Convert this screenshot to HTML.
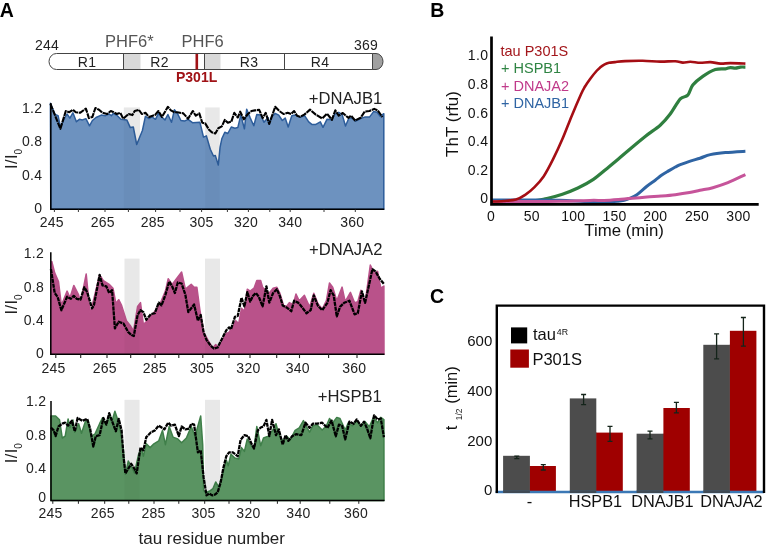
<!DOCTYPE html>
<html><head><meta charset="utf-8"><title>Figure</title>
<style>
html,body{margin:0;padding:0;background:#fff;}
body{width:774px;height:549px;overflow:hidden;}
svg{display:block;}
text{font-family:"Liberation Sans",sans-serif;fill:#222;}
.tk{font-size:14px;letter-spacing:0.25px;}
.lb{font-size:16.6px;}
.yl{font-size:16.5px;}
.pn{font-size:19.5px;font-weight:bold;fill:#000;}
</style></head><body>
<svg width="774" height="549" viewBox="0 0 774 549">
<rect width="774" height="549" fill="#fff"/>

<text x="-0.2" y="16.8" class="pn">A</text>
<text x="430.3" y="16.8" class="pn">B</text>
<text x="430.1" y="303.3" class="pn">C</text>

<g>
<path d="M56.5,53.5 H372.5 V69.5 H56.5 A7.5,8 0 0 1 56.5,53.5 Z" fill="#fff" stroke="none"/>
<rect x="123.5" y="54" width="17" height="15" fill="#d9d9d9"/>
<rect x="205" y="54" width="15.5" height="15" fill="#d9d9d9"/>
<path d="M372.5,53.5 H376 A7,8 0 0 1 376,69.5 H372.5 Z" fill="#a0a0a0" stroke="#444" stroke-width="1"/>
<path d="M372.5,53.5 H56.5 A7.5,8 0 0 0 56.5,69.5 H372.5" fill="none" stroke="#444" stroke-width="1"/>
<path d="M123.5,53.5 V69.5 M204.5,53.5 V69.5 M284.5,53.5 V69.5 M372.5,53.5 V69.5" stroke="#444" stroke-width="1" fill="none"/>
<rect x="195.5" y="54" width="2.6" height="15.5" fill="#a01216"/>
<text x="87" y="66.5" text-anchor="middle" class="tk">R1</text>
<text x="159.5" y="66.5" text-anchor="middle" class="tk">R2</text>
<text x="249" y="66.5" text-anchor="middle" class="tk">R3</text>
<text x="320" y="66.5" text-anchor="middle" class="tk">R4</text>
<text x="35" y="50.3" class="tk">244</text>
<text x="354" y="50.3" class="tk">369</text>
<text x="105" y="47" font-size="16.5" style="fill:#555">PHF6*</text>
<text x="181.5" y="47" font-size="16.5" style="fill:#555">PHF6</text>
<text x="176" y="82.2" font-size="14" font-weight="bold" style="fill:#a01216">P301L</text>
</g>

<rect x="123.8" y="107.4" width="16.2" height="101.8" fill="#f0f0f0"/>
<rect x="205.2" y="107.4" width="14.5" height="101.8" fill="#f0f0f0"/>
<polygon points="50.8,209.2 50.4,103.3 55.1,114.5 58.1,115.7 60.4,127.0 63.4,120.5 67.0,114.0 69.9,118.1 72.9,112.8 76.4,121.7 79.4,119.3 82.4,119.9 85.9,118.7 89.5,125.8 92.4,120.5 96.0,117.5 101.3,115.1 105.5,115.7 109.0,114.0 111.4,115.7 113.2,113.4 117.3,115.7 120.9,119.3 126.8,119.9 130.3,127.6 133.3,127.0 136.7,144.5 142.4,130.5 145.4,116.3 149.0,118.7 151.9,116.9 155.5,119.3 158.4,113.4 161.4,116.9 165.0,119.9 167.9,114.5 171.5,122.3 174.4,109.8 177.4,113.4 180.9,120.5 184.5,121.1 188.1,119.3 192.8,122.8 199.9,122.3 203.5,137.1 206.4,135.9 210.3,149.2 213.5,156.0 215.3,155.4 218.3,165.0 220.1,147.1 221.8,138.8 224.8,132.3 227.8,133.5 231.3,127.0 234.9,128.2 237.8,127.6 240.8,115.1 244.4,128.8 246.7,109.2 250.3,118.1 253.8,125.8 256.8,114.5 260.9,115.1 263.9,122.3 268.1,117.5 269.2,124.0 271.6,116.9 275.2,113.4 278.7,115.1 282.3,120.5 285.2,118.1 288.2,127.0 291.8,115.7 295.3,115.1 300.5,117.1 304.6,115.7 308.7,121.9 312.1,124.6 315.5,124.6 320.3,121.9 323.0,127.3 327.1,119.2 331.9,119.8 334.6,114.4 338.7,112.3 342.1,114.4 345.5,126.0 349.0,117.8 352.4,118.5 355.8,121.2 360.6,118.5 364.7,117.1 369.5,117.1 373.6,111.6 377.0,112.3 380.4,116.4 383.8,113.7 383.8,209.2" fill="#6d92bf" stroke="#2d5d9b" stroke-width="1.5" stroke-linejoin="round"/>
<rect x="123.8" y="107.4" width="16.2" height="101.8" fill="#000" fill-opacity="0.03"/>
<rect x="205.2" y="107.4" width="14.5" height="101.8" fill="#000" fill-opacity="0.03"/>
<polyline points="50.4,103.9 60.4,128.8 65.8,111.0 69.3,112.2 72.9,109.8 75.8,112.2 80.0,112.8 85.9,108.6 88.9,118.1 92.4,116.9 95.4,108.0 99.0,109.8 102.5,112.8 107.2,114.0 110.8,111.0 113.8,112.2 116.7,114.0 120.3,112.8 123.2,118.7 128.6,114.0 132.4,115.1 134.7,111.0 138.9,109.8 141.8,114.0 145.4,112.8 149.0,116.9 154.9,115.1 158.4,111.0 162.0,116.9 167.9,106.8 170.9,110.4 174.4,112.2 177.4,112.2 183.3,113.4 188.1,118.7 192.8,111.0 195.8,115.7 199.3,113.4 202.3,122.8 205.2,123.4 208.8,129.4 211.8,132.3 215.3,133.5 218.3,128.2 221.8,126.4 224.8,119.9 227.8,122.8 231.3,121.7 234.3,112.8 237.8,117.5 240.2,111.6 243.8,119.3 247.9,114.0 251.5,111.0 255.0,110.4 259.2,109.8 262.7,118.1 265.7,112.8 269.2,124.0 275.2,106.8 279.3,111.0 283.5,114.0 287.6,112.8 291.2,114.0 294.1,111.0 297.1,115.7 300.0,116.9 304.6,114.4 310.0,109.6 315.5,114.4 322.3,118.5 327.1,113.7 331.9,119.8 335.3,110.3 338.7,115.7 342.8,113.0 348.3,117.8 351.0,115.7 355.1,120.5 360.6,117.8 364.7,111.6 369.5,111.0 374.2,108.9 377.7,110.3 382.4,117.1" fill="none" stroke="#000" stroke-width="2.1" stroke-linejoin="round" stroke-dasharray="6 0.7"/>
<path d="M50.8,103 V209.2 H384.3" fill="none" stroke="#000" stroke-width="1.5"/>
<line x1="54.4" y1="209.2" x2="54.4" y2="212.0" stroke="#222" stroke-width="0.9"/>
<line x1="78.4" y1="209.2" x2="78.4" y2="212.0" stroke="#222" stroke-width="0.9"/>
<line x1="105" y1="209.2" x2="105" y2="212.0" stroke="#222" stroke-width="0.9"/>
<line x1="128.4" y1="209.2" x2="128.4" y2="212.0" stroke="#222" stroke-width="0.9"/>
<line x1="155.6" y1="209.2" x2="155.6" y2="212.0" stroke="#222" stroke-width="0.9"/>
<line x1="180" y1="209.2" x2="180" y2="212.0" stroke="#222" stroke-width="0.9"/>
<line x1="201.6" y1="209.2" x2="201.6" y2="212.0" stroke="#222" stroke-width="0.9"/>
<line x1="227.4" y1="209.2" x2="227.4" y2="212.0" stroke="#222" stroke-width="0.9"/>
<line x1="248.4" y1="209.2" x2="248.4" y2="212.0" stroke="#222" stroke-width="0.9"/>
<line x1="269.8" y1="209.2" x2="269.8" y2="212.0" stroke="#222" stroke-width="0.9"/>
<line x1="290.2" y1="209.2" x2="290.2" y2="212.0" stroke="#222" stroke-width="0.9"/>
<line x1="324" y1="209.2" x2="324" y2="212.0" stroke="#222" stroke-width="0.9"/>
<line x1="355.3" y1="209.2" x2="355.3" y2="212.0" stroke="#222" stroke-width="0.9"/>
<text x="51.7" y="227.3" text-anchor="middle" class="tk">245</text>
<text x="102.8" y="227.3" text-anchor="middle" class="tk">265</text>
<text x="152.8" y="227.3" text-anchor="middle" class="tk">285</text>
<text x="201.6" y="227.3" text-anchor="middle" class="tk">305</text>
<text x="246" y="227.3" text-anchor="middle" class="tk">320</text>
<text x="290.2" y="227.3" text-anchor="middle" class="tk">340</text>
<text x="352.3" y="227.3" text-anchor="middle" class="tk">360</text>
<text x="42.2" y="112.7" text-anchor="end" class="tk">1.2</text>
<text x="42.2" y="146.0" text-anchor="end" class="tk">0.8</text>
<text x="42.2" y="179.7" text-anchor="end" class="tk">0.4</text>
<text x="42.2" y="212.5" text-anchor="end" class="tk">0</text>
<text x="382.2" y="104" text-anchor="end" class="lb">+DNAJB1</text>
<text transform="translate(17.1,169.0) rotate(-90)" class="yl" letter-spacing="0.4">I/I<tspan dy="5.3" dx="-0.4" font-size="10">0</tspan></text>
<rect x="124.5" y="258.6" width="15.1" height="95.7" fill="#f0f0f0"/>
<rect x="205" y="258.6" width="15.0" height="95.7" fill="#f0f0f0"/>
<polygon points="50.8,354.3 51.8,261.5 54.7,272.9 58.5,281.5 61.4,305.4 67.1,291.1 70.0,297.8 73.8,285.4 78.6,294.9 80.5,302.6 86.2,273.9 90.1,314.1 99.6,274.9 103.4,280.6 109.2,284.4 113.0,288.2 115.9,303.5 118.7,299.7 121.6,305.4 126.4,320.7 130.2,325.5 133.5,331.0 137.6,306.4 140.5,302.6 143.4,324.6 147.2,320.7 154.9,311.2 160.6,302.6 165.4,291.1 168.2,278.7 172.1,284.4 181.6,272.0 185.4,289.2 191.2,284.4 194.1,287.3 196.9,287.3 199.8,309.3 203.6,332.2 208.4,340.8 212.9,348.0 215.7,344.6 218.6,347.5 221.5,341.8 225.3,334.1 229.1,332.2 232.9,326.5 235.8,320.7 238.7,323.6 241.5,308.3 244.4,311.2 247.3,289.2 250.2,291.1 254.0,288.2 256.8,280.6 260.7,280.6 262.6,287.3 266.4,291.1 269.3,293.0 273.1,288.2 276.9,287.3 279.8,293.0 283.6,305.4 286.5,306.4 289.3,302.6 293.2,304.5 296.0,294.0 299.2,300.7 304.4,295.4 309.6,306.9 313.8,293.3 318.0,303.8 322.2,309.0 326.4,300.7 329.5,282.9 332.7,287.1 336.8,300.7 342.1,287.1 345.2,301.7 350.4,292.3 354.6,302.8 357.8,301.7 360.9,290.2 365.1,302.8 370.3,265.1 374.5,273.5 377.6,271.4 380.8,288.1 383.9,286.0 384.0,354.3" fill="#b9528a" stroke="#b9528a" stroke-width="1.5" stroke-linejoin="round"/>
<rect x="124.5" y="258.6" width="15.1" height="95.7" fill="#000" fill-opacity="0.03"/>
<rect x="205" y="258.6" width="15.0" height="95.7" fill="#000" fill-opacity="0.03"/>
<polyline points="50.9,269.1 54.7,293.0 57.6,296.8 61.4,310.2 67.1,296.8 70.9,298.8 73.8,295.9 76.7,298.8 80.5,299.7 84.3,287.3 87.2,292.1 92.0,308.3 93.9,305.4 99.6,274.9 102.5,285.4 106.3,286.3 109.2,293.0 112.1,290.2 114.9,328.4 118.7,321.7 123.5,323.6 128.3,332.2 131.5,335.0 133.8,336.0 137.6,315.0 140.5,310.2 143.4,312.1 146.3,319.8 151.0,314.1 154.9,313.1 158.7,302.6 161.5,305.4 165.4,294.9 169.2,281.5 172.1,286.3 174.9,293.0 177.8,282.5 181.6,283.5 185.4,294.9 188.3,312.1 194.1,304.5 197.9,320.7 200.7,315.0 203.6,332.2 206.5,339.9 210.5,345.5 213.8,348.5 217.6,347.5 222.4,338.0 226.3,330.3 229.1,327.4 231.0,329.3 234.9,316.9 237.7,316.0 241.5,297.8 244.4,306.4 247.3,292.1 250.2,301.6 253.0,295.9 255.9,293.0 258.8,296.8 262.6,306.4 266.4,286.3 269.3,302.6 273.1,293.0 276.9,289.2 279.8,295.9 282.7,305.4 286.5,307.4 291.3,311.2 294.1,300.7 298.0,302.6 300.2,304.9 306.5,313.2 310.7,310.1 313.8,295.4 318.0,305.9 322.2,310.1 327.4,302.8 330.6,290.2 333.7,295.4 336.8,316.4 340.0,306.9 344.2,302.8 349.4,300.7 354.6,314.3 357.8,313.2 361.9,291.3 365.1,302.8 372.4,269.3 375.5,271.4 379.7,278.7 383.9,283.9" fill="none" stroke="#000" stroke-width="2.3" stroke-linejoin="round" stroke-dasharray="4.2 0.7"/>
<path d="M50.8,252.3 V354.3 H384.5" fill="none" stroke="#000" stroke-width="1.5"/>
<line x1="55.8" y1="354.3" x2="55.8" y2="358.1" stroke="#222" stroke-width="1.1"/>
<line x1="80.7" y1="354.3" x2="80.7" y2="358.1" stroke="#222" stroke-width="1.1"/>
<line x1="107" y1="354.3" x2="107" y2="358.1" stroke="#222" stroke-width="1.1"/>
<line x1="130.7" y1="354.3" x2="130.7" y2="358.1" stroke="#222" stroke-width="1.1"/>
<line x1="155.1" y1="354.3" x2="155.1" y2="358.1" stroke="#222" stroke-width="1.1"/>
<line x1="178.8" y1="354.3" x2="178.8" y2="358.1" stroke="#222" stroke-width="1.1"/>
<line x1="202.8" y1="354.3" x2="202.8" y2="358.1" stroke="#222" stroke-width="1.1"/>
<line x1="229" y1="354.3" x2="229" y2="358.1" stroke="#222" stroke-width="1.1"/>
<line x1="250" y1="354.3" x2="250" y2="358.1" stroke="#222" stroke-width="1.1"/>
<line x1="276.7" y1="354.3" x2="276.7" y2="358.1" stroke="#222" stroke-width="1.1"/>
<line x1="299.5" y1="354.3" x2="299.5" y2="358.1" stroke="#222" stroke-width="1.1"/>
<line x1="328.6" y1="354.3" x2="328.6" y2="358.1" stroke="#222" stroke-width="1.1"/>
<line x1="357" y1="354.3" x2="357" y2="358.1" stroke="#222" stroke-width="1.1"/>
<text x="53.5" y="372.8" text-anchor="middle" class="tk">245</text>
<text x="104.7" y="372.8" text-anchor="middle" class="tk">265</text>
<text x="154.7" y="372.8" text-anchor="middle" class="tk">285</text>
<text x="202" y="372.8" text-anchor="middle" class="tk">305</text>
<text x="248.4" y="372.8" text-anchor="middle" class="tk">320</text>
<text x="297.7" y="372.8" text-anchor="middle" class="tk">340</text>
<text x="354.2" y="372.8" text-anchor="middle" class="tk">360</text>
<text x="44" y="258.2" text-anchor="end" class="tk">1.2</text>
<text x="44" y="291.6" text-anchor="end" class="tk">0.8</text>
<text x="44" y="325.2" text-anchor="end" class="tk">0.4</text>
<text x="44" y="357.5" text-anchor="end" class="tk">0</text>
<text x="382.4" y="254.6" text-anchor="end" class="lb">+DNAJA2</text>
<text transform="translate(17.1,314.5) rotate(-90)" class="yl" letter-spacing="0.4">I/I<tspan dy="5.3" dx="-0.4" font-size="10">0</tspan></text>
<rect x="124.5" y="399.8" width="15.1" height="100.8" fill="#f0f0f0"/>
<rect x="205" y="399.8" width="15.0" height="100.8" fill="#f0f0f0"/>
<polygon points="51.0,500.6 50.9,416.0 55.6,416.0 59.5,419.9 62.3,438.0 65.2,436.1 68.1,418.9 70.0,427.5 72.9,419.9 74.8,432.3 78.6,423.7 81.5,433.2 85.3,421.8 88.2,420.8 91.0,436.1 94.8,434.2 99.6,423.7 102.5,417.9 106.3,424.6 109.2,414.1 112.1,420.8 114.9,411.3 117.8,419.9 120.7,432.3 123.5,451.4 125.4,474.3 128.3,461.0 132.1,467.7 134.5,473.0 138.6,454.3 141.5,448.5 143.4,456.2 146.3,443.8 150.1,447.6 153.9,443.8 158.7,440.9 162.5,430.4 165.4,444.7 169.2,426.5 173.0,437.1 177.8,439.0 181.6,442.8 186.4,438.0 191.2,426.5 195.0,436.1 200.7,416.0 202.7,444.7 203.6,490.6 206.5,492.5 210.3,490.6 212.9,488.7 215.7,482.0 218.6,486.8 221.5,479.1 224.3,467.7 226.3,460.0 228.2,465.7 231.0,454.3 234.9,458.1 238.7,459.1 241.5,447.6 244.4,451.4 247.3,439.0 251.1,445.7 254.0,448.5 256.8,426.5 260.7,445.7 263.5,438.0 268.3,436.1 272.1,431.3 276.0,423.7 278.8,434.2 282.7,440.9 286.5,436.1 290.3,439.9 295.1,430.4 299.2,427.9 303.4,420.6 306.5,426.8 309.6,432.1 312.8,425.8 317.0,424.7 322.2,430.0 326.4,425.8 329.5,418.5 332.7,422.7 336.8,417.4 340.0,418.5 345.2,430.0 348.3,422.7 352.5,425.8 356.7,420.6 360.9,425.8 365.1,421.6 369.3,426.8 373.5,417.4 377.6,422.7 380.8,417.4 383.9,419.5 384.0,500.6" fill="#5a9462" stroke="#3f7f49" stroke-width="1.5" stroke-linejoin="round"/>
<rect x="124.5" y="399.8" width="15.1" height="100.8" fill="#000" fill-opacity="0.03"/>
<rect x="205" y="399.8" width="15.0" height="100.8" fill="#000" fill-opacity="0.03"/>
<polyline points="50.9,427.5 53.7,430.4 55.6,436.1 58.5,426.5 62.3,423.7 65.2,422.7 68.1,425.6 71.9,420.8 74.8,431.3 77.6,418.0 82.4,420.8 87.2,418.9 90.1,428.5 93.3,446.6 95.8,436.1 99.6,435.2 103.4,418.0 106.3,424.6 109.2,413.2 113.0,423.7 115.9,431.3 118.7,418.9 121.6,430.4 123.5,456.2 125.4,473.4 128.3,468.6 131.2,463.8 133.8,467.7 136.7,473.4 140.5,447.6 143.4,450.4 146.3,437.1 151.0,432.3 154.9,430.4 158.7,425.6 164.4,429.4 168.2,422.7 171.1,425.6 174.9,424.6 178.8,436.1 181.6,426.5 185.4,429.4 189.3,428.5 191.2,423.7 194.1,424.6 197.9,452.4 200.7,450.4 203.6,477.2 206.5,495.4 209.3,493.5 212.2,495.4 215.0,494.5 217.6,492.5 220.5,483.0 223.4,467.7 226.3,456.2 229.1,452.4 232.9,452.4 237.7,456.2 240.6,439.9 244.4,435.2 248.2,436.1 251.1,442.8 254.0,448.5 257.8,430.4 260.7,427.5 263.5,426.5 266.4,419.9 269.3,436.1 272.1,419.9 276.0,435.2 278.8,429.4 282.7,444.7 285.5,435.2 288.4,440.9 292.2,436.1 296.0,434.2 301.3,435.2 305.5,422.7 309.6,427.9 312.8,423.7 317.0,423.7 322.2,422.7 327.4,427.9 331.6,420.6 335.8,436.3 338.9,424.7 342.1,425.8 345.2,439.4 349.4,421.6 353.6,423.7 356.7,419.5 360.9,425.8 364.0,421.6 367.2,428.9 370.3,438.3 374.1,415.3 377.6,419.5 380.8,418.5 383.9,437.3" fill="none" stroke="#000" stroke-width="2.3" stroke-linejoin="round" stroke-dasharray="4.2 0.7"/>
<path d="M51,401 V500.6 H384.5" fill="none" stroke="#000" stroke-width="1.5"/>
<line x1="52.8" y1="500.6" x2="52.8" y2="503.8" stroke="#222" stroke-width="1.0"/>
<line x1="78.4" y1="500.6" x2="78.4" y2="503.8" stroke="#222" stroke-width="1.0"/>
<line x1="104.7" y1="500.6" x2="104.7" y2="503.8" stroke="#222" stroke-width="1.0"/>
<line x1="128.8" y1="500.6" x2="128.8" y2="503.8" stroke="#222" stroke-width="1.0"/>
<line x1="154" y1="500.6" x2="154" y2="503.8" stroke="#222" stroke-width="1.0"/>
<line x1="178.8" y1="500.6" x2="178.8" y2="503.8" stroke="#222" stroke-width="1.0"/>
<line x1="204.7" y1="500.6" x2="204.7" y2="503.8" stroke="#222" stroke-width="1.0"/>
<line x1="229" y1="500.6" x2="229" y2="503.8" stroke="#222" stroke-width="1.0"/>
<line x1="250.7" y1="500.6" x2="250.7" y2="503.8" stroke="#222" stroke-width="1.0"/>
<line x1="277.4" y1="500.6" x2="277.4" y2="503.8" stroke="#222" stroke-width="1.0"/>
<line x1="300.2" y1="500.6" x2="300.2" y2="503.8" stroke="#222" stroke-width="1.0"/>
<line x1="329.8" y1="500.6" x2="329.8" y2="503.8" stroke="#222" stroke-width="1.0"/>
<line x1="358.8" y1="500.6" x2="358.8" y2="503.8" stroke="#222" stroke-width="1.0"/>
<text x="50.6" y="518.4" text-anchor="middle" class="tk">245</text>
<text x="102.8" y="518.4" text-anchor="middle" class="tk">265</text>
<text x="153.5" y="518.4" text-anchor="middle" class="tk">285</text>
<text x="203.5" y="518.4" text-anchor="middle" class="tk">305</text>
<text x="248.4" y="518.4" text-anchor="middle" class="tk">320</text>
<text x="298.4" y="518.4" text-anchor="middle" class="tk">340</text>
<text x="356" y="518.4" text-anchor="middle" class="tk">360</text>
<text x="46.2" y="406.4" text-anchor="end" class="tk">1.2</text>
<text x="46.2" y="439.7" text-anchor="end" class="tk">0.8</text>
<text x="46.2" y="473.4" text-anchor="end" class="tk">0.4</text>
<text x="46.2" y="501.7" text-anchor="end" class="tk">0</text>
<text x="381.8" y="401.7" text-anchor="end" class="lb">+HSPB1</text>
<text transform="translate(17.1,463.2) rotate(-90)" class="yl" letter-spacing="0.4">I/I<tspan dy="5.3" dx="-0.4" font-size="10">0</tspan></text>
<text x="138.5" y="543.5" font-size="17">tau residue number</text>
<g fill="none" stroke-linejoin="round" stroke-linecap="butt">
<path d="M491.2,201.0 C497.9,201.0 522.1,201.4 531.4,201.0 C540.7,200.6 541.7,199.6 546.9,198.5 C552.1,197.4 557.2,195.9 562.4,194.2 C567.6,192.4 572.7,190.5 577.9,188.0 C583.1,185.5 588.2,182.8 593.4,179.3 C598.5,175.8 604.7,170.2 608.8,166.9 C612.9,163.6 614.5,162.2 618.1,159.2 C621.7,156.2 625.6,152.8 630.1,149.0 C634.6,145.2 640.2,140.5 645.2,136.5 C650.2,132.5 656.0,128.9 660.2,125.2 C664.4,121.5 666.9,118.4 670.2,114.0 C673.6,109.6 677.4,102.0 680.3,98.9 C683.2,95.8 685.7,97.5 687.8,95.2 C689.9,92.9 690.3,88.2 692.8,85.1 C695.3,82.0 699.0,79.0 702.8,76.4 C706.5,73.8 711.5,70.9 715.3,69.6 C719.1,68.3 722.9,69.1 725.4,68.8 C727.9,68.5 728.7,67.7 730.4,67.6 C732.1,67.5 733.7,68.2 735.4,68.1 C737.1,68.0 738.7,67.3 740.4,67.1 C742.1,66.9 744.6,67.1 745.4,67.1" stroke="#2f7f3f" stroke-width="3.2"/>
<path d="M491.2,200.0 C497.7,200.0 518.5,199.9 530.0,200.0 C541.5,200.1 550.0,200.0 560.0,200.3 C570.0,200.6 581.7,201.4 590.0,201.6 C598.3,201.8 605.3,201.8 610.0,201.7 C614.7,201.6 615.6,201.5 618.0,201.3 C620.4,201.1 622.1,200.9 624.1,200.4 C626.1,199.9 627.7,199.2 629.8,198.3 C631.9,197.4 634.0,196.7 636.9,194.7 C639.8,192.7 643.8,188.6 646.9,186.2 C650.0,183.8 652.8,182.0 655.2,180.2 C657.6,178.4 659.0,177.0 661.1,175.5 C663.2,174.0 665.3,172.8 667.7,171.4 C670.1,170.0 673.2,168.1 675.3,167.0 C677.4,165.9 677.9,165.5 680.3,164.6 C682.7,163.7 686.2,162.4 689.5,161.3 C692.8,160.2 696.5,159.3 700.0,158.2 C703.5,157.1 706.1,155.5 710.3,154.6 C714.5,153.7 719.5,153.1 725.4,152.6 C731.2,152.1 742.1,151.5 745.4,151.3" stroke="#2f64a3" stroke-width="3"/>
<path d="M491.2,201.5 C497.7,201.5 518.5,201.5 530.0,201.5 C541.5,201.5 550.0,201.5 560.0,201.3 C570.0,201.1 582.7,200.6 590.0,200.4 C597.3,200.2 599.3,200.6 604.0,200.4 C608.7,200.2 613.6,199.8 618.4,199.4 C623.2,199.1 627.9,198.7 632.6,198.3 C637.4,197.9 642.1,197.5 646.9,197.1 C651.6,196.7 656.4,196.5 661.1,196.1 C665.8,195.7 670.6,195.3 675.3,194.7 C680.0,194.1 685.4,193.3 689.5,192.6 C693.6,191.9 696.1,191.1 700.0,190.3 C703.9,189.5 708.1,189.0 712.8,187.7 C717.4,186.4 722.5,184.9 727.9,182.7 C733.3,180.5 742.5,175.9 745.4,174.6" stroke="#c6549a" stroke-width="3"/>
<path d="M491.2,201.6 C493.3,201.5 499.5,201.4 503.6,201.0 C507.7,200.6 512.4,200.4 516.0,199.4 C519.6,198.4 522.1,196.9 525.2,194.8 C528.3,192.8 531.4,190.2 534.5,187.1 C537.6,184.0 540.7,180.8 543.8,176.2 C546.9,171.5 550.0,165.4 553.1,159.2 C556.2,153.0 559.3,146.3 562.4,139.1 C565.5,131.9 568.6,123.4 571.7,115.9 C574.8,108.4 578.8,99.1 581.0,94.2 C583.2,89.3 583.5,89.1 585.0,86.5 C586.5,83.9 588.4,81.3 590.3,78.7 C592.2,76.1 594.9,72.8 596.5,71.0 C598.1,69.2 598.7,68.7 600.0,67.6 C601.3,66.5 602.7,65.4 604.2,64.6 C605.7,63.8 607.2,63.2 609.0,62.8 C610.8,62.4 612.3,62.4 615.0,62.1 C617.7,61.8 620.5,61.3 625.1,61.1 C629.7,60.9 636.9,60.7 642.7,60.8 C648.6,60.9 654.8,61.5 660.2,61.6 C665.6,61.7 671.4,61.1 675.2,61.3 C679.0,61.5 680.3,62.5 682.8,62.6 C685.3,62.7 687.4,61.8 690.3,61.8 C693.2,61.8 697.0,62.8 700.3,62.8 C703.6,62.8 706.9,62.0 710.3,62.1 C713.6,62.2 717.0,63.4 720.4,63.6 C723.8,63.8 726.2,63.1 730.4,63.1 C734.6,63.1 742.9,63.5 745.4,63.6" stroke="#a50e14" stroke-width="2.6"/>
</g>
<path d="M491.5,36.4 V204.4 H758.7" fill="none" stroke="#000" stroke-width="2.7"/>
<text x="488.6" y="59.8" text-anchor="end" class="tk" style="fill:#111;letter-spacing:0.5px">1.0</text>
<text x="488.6" y="89.1" text-anchor="end" class="tk" style="fill:#111;letter-spacing:0.5px">0.8</text>
<text x="488.6" y="117.6" text-anchor="end" class="tk" style="fill:#111;letter-spacing:0.5px">0.6</text>
<text x="488.6" y="146.3" text-anchor="end" class="tk" style="fill:#111;letter-spacing:0.5px">0.4</text>
<text x="488.6" y="174.7" text-anchor="end" class="tk" style="fill:#111;letter-spacing:0.5px">0.2</text>
<text x="488.6" y="202.6" text-anchor="end" class="tk" style="fill:#111;letter-spacing:0.5px">0</text>
<text x="490.9" y="221" text-anchor="middle" class="tk" style="fill:#111">0</text>
<text x="531.8" y="221" text-anchor="middle" class="tk" style="fill:#111">50</text>
<text x="573.3" y="221" text-anchor="middle" class="tk" style="fill:#111">100</text>
<text x="614.6" y="221" text-anchor="middle" class="tk" style="fill:#111">150</text>
<text x="655.2" y="221" text-anchor="middle" class="tk" style="fill:#111">200</text>
<text x="697" y="221" text-anchor="middle" class="tk" style="fill:#111">250</text>
<text x="738.4" y="221" text-anchor="middle" class="tk" style="fill:#111">300</text>
<text x="584.3" y="235.9" font-size="16.8" style="fill:#111">Time (min)</text>
<text transform="translate(458.4,124) rotate(-90)" text-anchor="middle" font-size="17" style="fill:#111">ThT (rfu)</text>
<text x="500.5" y="55.8" font-size="14.5" style="fill:#a3161b">tau P301S</text>
<text x="501" y="73" font-size="14.5" style="fill:#2f8443">+ HSPB1</text>
<text x="501" y="91" font-size="14.5" style="fill:#c03a8a">+ DNAJA2</text>
<text x="501" y="108.1" font-size="14.5" style="fill:#2f64a3">+ DNAJB1</text>
<rect x="503.1" y="455.8" width="26.8" height="37.2" fill="#4c4c4c"/>
<rect x="529.4" y="466" width="1.1" height="25.0" fill="#4c4c4c"/>
<rect x="529.9" y="466" width="26.0" height="25.0" fill="#9f0000"/>
<rect x="569.8" y="398.4" width="26.5" height="94.6" fill="#4c4c4c"/>
<rect x="595.8" y="432.6" width="1.1" height="58.4" fill="#4c4c4c"/>
<rect x="596.3" y="432.6" width="26.5" height="58.4" fill="#9f0000"/>
<rect x="636.6" y="433.7" width="26.8" height="59.3" fill="#4c4c4c"/>
<rect x="662.9" y="433.7" width="1.1" height="57.3" fill="#4c4c4c"/>
<rect x="663.4" y="408" width="26.4" height="83.0" fill="#9f0000"/>
<rect x="703.3" y="344.8" width="26.6" height="148.2" fill="#4c4c4c"/>
<rect x="729.4" y="344.8" width="1.1" height="146.2" fill="#4c4c4c"/>
<rect x="729.9" y="330.8" width="26.5" height="160.2" fill="#9f0000"/>
<line x1="495.6" y1="492" x2="764" y2="492" stroke="#3b78b5" stroke-width="2.4"/>
<rect x="503.1" y="490.5" width="26.8" height="2.5" fill="#3f4a55"/>
<rect x="569.8" y="490.5" width="26.5" height="2.5" fill="#3f4a55"/>
<rect x="636.6" y="490.5" width="26.8" height="2.5" fill="#3f4a55"/>
<rect x="703.3" y="490.5" width="26.6" height="2.5" fill="#3f4a55"/>
<path d="M496.8,493 V305.6 H764 V493" fill="none" stroke="#000" stroke-width="2.4"/>
<path d="M516.8,456.2 V458.6 M514.3,456.2 H519.3 M514.3,458.6 H519.3" stroke="#14241a" stroke-width="1.3" fill="none"/>
<path d="M543.3,464.6 V470 M540.8,464.6 H545.8 M540.8,470 H545.8" stroke="#14241a" stroke-width="1.3" fill="none"/>
<path d="M583.6,394.5 V404.7 M581.1,394.5 H586.1 M581.1,404.7 H586.1" stroke="#14241a" stroke-width="1.3" fill="none"/>
<path d="M610,426.3 V441.3 M607.5,426.3 H612.5 M607.5,441.3 H612.5" stroke="#14241a" stroke-width="1.3" fill="none"/>
<path d="M650,431.1 V438.8 M647.5,431.1 H652.5 M647.5,438.8 H652.5" stroke="#14241a" stroke-width="1.3" fill="none"/>
<path d="M676.4,402.4 V412.8 M673.9,402.4 H678.9 M673.9,412.8 H678.9" stroke="#14241a" stroke-width="1.3" fill="none"/>
<path d="M716.6,333.9 V358.8 M714.1,333.9 H719.1 M714.1,358.8 H719.1" stroke="#14241a" stroke-width="1.3" fill="none"/>
<path d="M743.4,317.5 V346.1 M740.9,317.5 H745.9 M740.9,346.1 H745.9" stroke="#14241a" stroke-width="1.3" fill="none"/>
<text x="492.3" y="346.4" text-anchor="end" font-size="15" style="fill:#111">600</text>
<text x="492.3" y="395.7" text-anchor="end" font-size="15" style="fill:#111">400</text>
<text x="492.3" y="445.7" text-anchor="end" font-size="15" style="fill:#111">200</text>
<text x="492.3" y="495.2" text-anchor="end" font-size="15" style="fill:#111">0</text>
<rect x="511" y="327.4" width="16.2" height="16" fill="#000"/>
<rect x="510.3" y="349.5" width="18.6" height="18.2" fill="#9f0000"/>
<text x="532.9" y="340.4" font-size="16.5" style="fill:#111">tau<tspan dy="-5.3" dx="1" font-size="8.8">4R</tspan></text>
<text x="532.4" y="364.5" font-size="16.5" style="fill:#111">P301S</text>
<text x="529.5" y="507.1" text-anchor="middle" class="lb" style="fill:#111">-</text>
<text x="568.7" y="507.1" font-size="16.3" style="fill:#111">HSPB1</text>
<text x="631.2" y="507.1" font-size="16.3" style="fill:#111">DNAJB1</text>
<text x="700.2" y="507.1" font-size="16.3" style="fill:#111">DNAJA2</text>
<text transform="translate(457.3,430.2) rotate(-90)" font-size="16.5" style="fill:#111">t</text>
<text transform="translate(462.2,420.2) rotate(-90)" font-size="8.4" style="fill:#111">1/2</text>
<text transform="translate(456.6,403.8) rotate(-90)" font-size="16.5" style="fill:#111">(min)</text>
</svg></body></html>
